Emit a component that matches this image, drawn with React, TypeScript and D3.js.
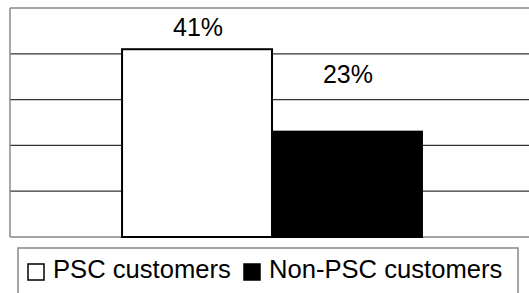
import * as d3 from "d3";

const categories = ["Customers"];
const seriesNames = ["PSC customers", "Non-PSC customers"];
const seriesValues = [0.41, 0.23];
const valueLabels = ["41%", "23%"];
const yTicks = [0, 0.1, 0.2, 0.3, 0.4, 0.5];

const WIDTH = 529;
const HEIGHT = 293;
const PLOT = { left: 10, top: 8, right: 534, bottom: 237 };
const colors = ["#ffffff", "#000000"];
// labels sit at different heights above the bars in the original
const labelLift = [13, 49];
const FONT = "'Liberation Sans', Arial, Helvetica, sans-serif";

export default function App() {
  const y = d3.scaleLinear().domain([0, 0.5]).range([PLOT.bottom, PLOT.top]);
  const x0 = d3
    .scaleBand<string>()
    .domain(categories)
    .range([PLOT.left, PLOT.right])
    .paddingInner(0.272)
    .paddingOuter(0.272);
  const x1 = d3
    .scaleBand<string>()
    .domain(seriesNames)
    .range([0, x0.bandwidth()]);

  const legendX = [28, 244];

  return (
    <>
      <style>{`body{margin:0}`}</style>
      <svg width={WIDTH} height={HEIGHT} style={{ display: "block", fontFamily: FONT }}>
        <rect width={WIDTH} height={HEIGHT} fill="#fff" />
        {yTicks.slice(1, -1).map((t) => (
          <line key={t} x1={PLOT.left} x2={PLOT.right} y1={y(t)} y2={y(t)} stroke="#333" strokeWidth={1.2} />
        ))}
        <line x1={PLOT.left} x2={PLOT.right} y1={y(0.5)} y2={y(0.5)} stroke="#888" strokeWidth={1.5} />
        <line x1={PLOT.left} x2={PLOT.left} y1={PLOT.top} y2={PLOT.bottom} stroke="#888" strokeWidth={1.5} />
        <line x1={PLOT.left} x2={PLOT.right} y1={y(0)} y2={y(0)} stroke="#888" strokeWidth={1.5} />
        {categories.map((c) => (
          <g key={c} transform={`translate(${x0(c)},0)`}>
            {seriesNames.map((s, i) => {
              const bx = x1(s) ?? 0;
              const by = y(seriesValues[i]);
              return (
                <g key={s}>
                  <rect
                    x={bx}
                    y={by}
                    width={x1.bandwidth()}
                    height={y(0) - by}
                    fill={colors[i]}
                    stroke="#000"
                    strokeWidth={2}
                  />
                  <text
                    x={bx + x1.bandwidth() / 2 + 1}
                    y={by - labelLift[i]}
                    textAnchor="middle"
                    fontSize={25}
                    fill="#000"
                  >
                    {valueLabels[i]}
                  </text>
                </g>
              );
            })}
          </g>
        ))}
        <rect x={18} y={248} width={500} height={60} fill="#fff" stroke="#888" strokeWidth={1.5} />
        {seriesNames.map((s, i) => (
          <g key={s}>
            <rect x={legendX[i]} y={264} width={16} height={16} fill={colors[i]} stroke="#000" strokeWidth={1.5} />
            <text x={legendX[i] + 25} y={277.5} fontSize={25.6} fill="#000">
              {s}
            </text>
          </g>
        ))}
      </svg>
    </>
  );
}
